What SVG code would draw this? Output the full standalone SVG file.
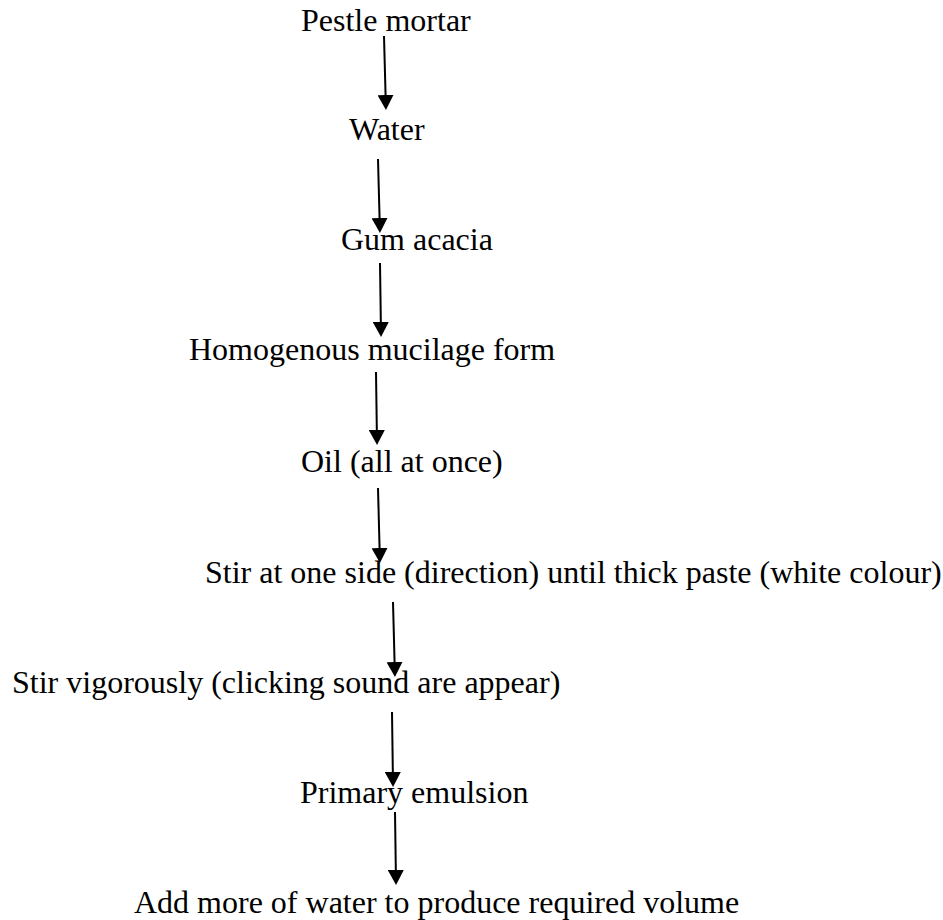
<svg xmlns="http://www.w3.org/2000/svg" width="943" height="920" viewBox="0 0 943 920">
  <style>
    .label { font-family: "Liberation Serif", "Times New Roman", serif; font-size: 32px; fill: #000; }
    .conn { stroke: #000; stroke-width: 2; fill: none; marker-end: url(#arrow); }
  </style>
  <defs>
    <marker id="arrow" viewBox="0 0 15 16" refX="5" refY="8" markerWidth="15" markerHeight="16" markerUnits="userSpaceOnUse" orient="auto">
      <path d="M0,0 L15,8 L0,16 Z" fill="#000"/>
    </marker>
  </defs>
  <rect width="943" height="920" fill="#fff"/>
  <g id="connectors">
    <path class="conn" d="M384,36 L385.7,100"/>
    <path class="conn" d="M378,159 L379.7,223"/>
    <path class="conn" d="M380,263 L380.9,327"/>
    <path class="conn" d="M376,372 L376.9,435"/>
    <path class="conn" d="M378,488 L379.7,553"/>
    <path class="conn" d="M393,602 L394.7,667"/>
    <path class="conn" d="M392,712 L392.9,777"/>
    <path class="conn" d="M395,812 L395.9,875"/>
  </g>
  <g id="node-pestle-mortar"><text class="label" x="301" y="31">Pestle mortar</text></g>
  <g id="node-water"><text class="label" x="349" y="140">Water</text></g>
  <g id="node-gum-acacia"><text class="label" x="341" y="250">Gum acacia</text></g>
  <g id="node-mucilage"><text class="label" x="189" y="360">Homogenous mucilage form</text></g>
  <g id="node-oil"><text class="label" x="301" y="472">Oil (all at once)</text></g>
  <g id="node-stir-one-side"><text class="label" x="205" y="583">Stir at one side (direction) until thick paste (white colour)</text></g>
  <g id="node-stir-vigorously"><text class="label" x="12" y="693">Stir vigorously (clicking sound are appear)</text></g>
  <g id="node-primary-emulsion"><text class="label" x="300" y="803">Primary emulsion</text></g>
  <g id="node-add-water"><text class="label" x="134" y="913">Add more of water to produce required volume</text></g>
</svg>
